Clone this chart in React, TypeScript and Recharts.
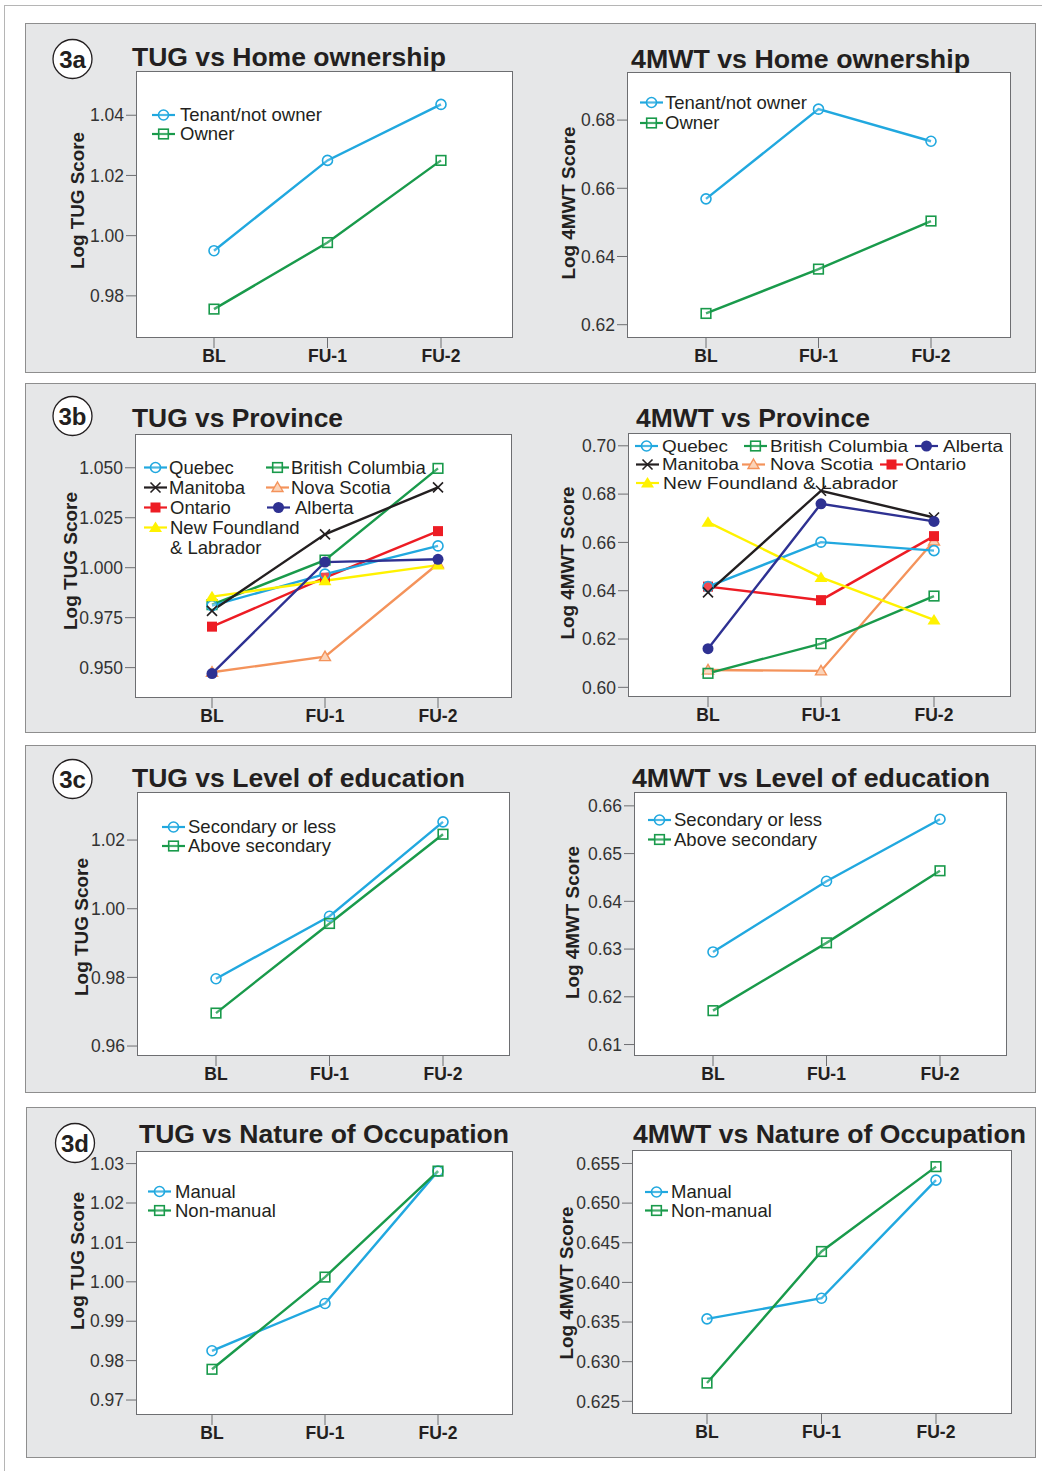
import React from 'react';
import { LineChart, Line, XAxis, YAxis } from 'recharts';

const FONT = '"Liberation Sans", Arial, Helvetica, sans-serif';
const INK = '#231f20';
const AXIS = '#6d6e71';

const visits = ['BL', 'FU-1', 'FU-2'];

const CYAN = '#21a8df';
const GREEN = '#199a4b';

// 3a home ownership
const tugTenant = [0.995, 1.025, 1.0436];
const tugOwner = [0.9756, 0.9977, 1.025];
const mwtTenant = [0.6569, 0.6832, 0.6738];
const mwtOwner = [0.6233, 0.6363, 0.6504];

// 3b province
const tugQuebec = [0.981, 0.9968, 1.0109];
const tugBC = [0.9815, 1.0038, 1.0497];
const tugManitoba = [0.9784, 1.0167, 1.0402];
const tugNovaScotia = [0.9477, 0.9555, 1.002];
const tugOntario = [0.9705, 0.995, 1.0183];
const tugAlberta = [0.947, 1.0028, 1.0042];
const tugNfl = [0.9855, 0.9935, 1.0013];

const mwtQuebec = [0.6417, 0.6601, 0.6566];
const mwtBC = [0.6058, 0.6181, 0.6378];
const mwtManitoba = [0.6393, 0.6814, 0.6703];
const mwtNovaScotia = [0.6072, 0.6068, 0.6606];
const mwtOntario = [0.6417, 0.6361, 0.6626];
const mwtAlberta = [0.616, 0.676, 0.6687];
const mwtNfl = [0.6684, 0.6455, 0.6279];

// 3c education
const tugSecondary = [0.9796, 0.9978, 1.0253];
const tugAbove = [0.9696, 0.9957, 1.0217];
const mwtSecondary = [0.6294, 0.6442, 0.6572];
const mwtAbove = [0.6171, 0.6313, 0.6464];

// 3d occupation
const tugManual = [0.9825, 0.9945, 1.0281];
const tugNonManual = [0.9778, 1.0012, 1.0281];
const mwtManual = [0.6354, 0.638, 0.6529];
const mwtNonManual = [0.6273, 0.6439, 0.6546];

// tick labels
const tugTicksA = [0.98, 1.0, 1.02, 1.04];
const mwtTicksA = [0.62, 0.64, 0.66, 0.68];
const tugTicksB = [0.95, 0.975, 1.0, 1.025, 1.05];
const mwtTicksB = [0.6, 0.62, 0.64, 0.66, 0.68, 0.7];
const tugTicksC = [0.96, 0.98, 1.0, 1.02];
const mwtTicksC = [0.61, 0.62, 0.63, 0.64, 0.65, 0.66];
const tugTicksD = [0.97, 0.98, 0.99, 1.0, 1.01, 1.02, 1.03];
const mwtTicksD = [0.625, 0.63, 0.635, 0.64, 0.645, 0.65, 0.655];

type Shape = 'circle' | 'square' | 'x' | 'triangle' | 'fsquare' | 'fcircle' | 'ftriangle';
type Series = { key: string; name: string; values: number[]; color: string; shape: Shape };

const ownership = (t: number[], o: number[]): Series[] => [
  { key: 'tenant', name: 'Tenant/not owner', values: t, color: CYAN, shape: 'circle' },
  { key: 'owner', name: 'Owner', values: o, color: GREEN, shape: 'square' },
];
const education = (s: number[], a: number[]): Series[] => [
  { key: 'secondary', name: 'Secondary or less', values: s, color: CYAN, shape: 'circle' },
  { key: 'above', name: 'Above secondary', values: a, color: GREEN, shape: 'square' },
];
const occupation = (m: number[], n: number[]): Series[] => [
  { key: 'manual', name: 'Manual', values: m, color: CYAN, shape: 'circle' },
  { key: 'nonmanual', name: 'Non-manual', values: n, color: GREEN, shape: 'square' },
];
const province = (q: number[], bc: number[], mb: number[], ns: number[], on: number[], ab: number[], nl: number[]): Series[] => [
  { key: 'ns', name: 'Nova Scotia', values: ns, color: '#f4935b', shape: 'triangle' },
  { key: 'bc', name: 'British Columbia', values: bc, color: GREEN, shape: 'square' },
  { key: 'on', name: 'Ontario', values: on, color: '#ed1c24', shape: 'fsquare' },
  { key: 'q', name: 'Quebec', values: q, color: CYAN, shape: 'circle' },
  { key: 'nl', name: 'New Foundland & Labrador', values: nl, color: '#fff200', shape: 'ftriangle' },
  { key: 'mb', name: 'Manitoba', values: mb, color: '#231f20', shape: 'x' },
  { key: 'ab', name: 'Alberta', values: ab, color: '#2e3192', shape: 'fcircle' },
];

function Marker({ cx, cy, shape, color }: { cx?: number; cy?: number; shape: Shape; color: string }) {
  if (cx == null || cy == null) return null;
  const sw = 1.6;
  switch (shape) {
    case 'circle':
      return <circle cx={cx} cy={cy} r={5} fill="#fff" fillOpacity={0.2} stroke={color} strokeWidth={sw} />;
    case 'square':
      return <rect x={cx - 4.8} y={cy - 4.8} width={9.6} height={9.6} fill="#fff" fillOpacity={0.2} stroke={color} strokeWidth={sw} />;
    case 'fsquare':
      return <rect x={cx - 5} y={cy - 5} width={10} height={10} fill={color} />;
    case 'fcircle':
      return <circle cx={cx} cy={cy} r={5.5} fill={color} />;
    case 'triangle':
      return <polygon points={`${cx},${cy - 5.5} ${cx + 5.5},${cy + 4} ${cx - 5.5},${cy + 4}`} fill="#fbd3b8" stroke={color} strokeWidth={1.4} />;
    case 'ftriangle':
      return <polygon points={`${cx},${cy - 6} ${cx + 6.5},${cy + 4.5} ${cx - 6.5},${cy + 4.5}`} fill={color} />;
    case 'x':
      return (
        <g stroke={color} strokeWidth={1.6}>
          <line x1={cx - 5} y1={cy - 5} x2={cx + 5} y2={cy + 5} />
          <line x1={cx - 5} y1={cy + 5} x2={cx + 5} y2={cy - 5} />
        </g>
      );
  }
  return null;
}

type ChartSpec = {
  box: [number, number, number, number];
  domain: [number, number];
  ticks: number[];
  digits: number;
  pad: [number, number];
  series: Series[];
};

const YW = 70;
const XH = 40;
const MT = 3;

function ChartPanel({ spec }: { spec: ChartSpec }) {
  const [bx, by, bw, bh] = spec.box;
  const data = visits.map((v, i) => {
    const row: Record<string, string | number> = { visit: v };
    spec.series.forEach((s) => {
      row[s.key] = s.values[i];
    });
    return row;
  });
  return (
    <>
      <div
        style={{
          position: 'absolute', left: bx, top: by, width: bw, height: bh,
          boxSizing: 'border-box', border: `1px solid ${AXIS}`, background: '#fff',
        }}
      />
      <div style={{ position: 'absolute', left: bx - YW, top: by - MT }}>
        <LineChart width={YW + bw + MT} height={MT + bh + XH} data={data} margin={{ top: MT, right: MT, bottom: 0, left: 0 }}>
          <XAxis
            dataKey="visit"
            height={XH}
            interval={0}
            padding={{ left: spec.pad[0], right: spec.pad[1] }}
            axisLine={false}
            tickLine={{ stroke: AXIS }}
            tickSize={10}
            tickMargin={2}
            tick={{ fill: INK, fontSize: 17.5, fontWeight: 700, fontFamily: FONT }}
          />
          <YAxis
            type="number"
            domain={spec.domain}
            ticks={spec.ticks}
            allowDataOverflow
            width={YW}
            axisLine={false}
            tickLine={{ stroke: AXIS }}
            tickSize={10}
            tickMargin={2}
            tick={{ fill: '#333', fontSize: 17.5, fontFamily: FONT }}
            tickFormatter={(v: number) => v.toFixed(spec.digits)}
          />
          {spec.series.map((s) => (
            <Line
              key={s.key}
              type="linear"
              dataKey={s.key}
              name={s.name}
              stroke={s.color}
              strokeWidth={2.4}
              dot={(p: any) => <Marker key={`${s.key}-${p.index}`} cx={p.cx} cy={p.cy} shape={s.shape} color={s.color} />}
              activeDot={false}
              isAnimationActive={false}
            />
          ))}
        </LineChart>
      </div>
    </>
  );
}

const charts: ChartSpec[] = [
  { box: [136, 71, 377, 267], domain: [0.966, 1.0547], ticks: tugTicksA, digits: 2, pad: [78, 72], series: ownership(tugTenant, tugOwner) },
  { box: [627, 72, 384, 266], domain: [0.6161, 0.6941], ticks: mwtTicksA, digits: 2, pad: [79, 80], series: ownership(mwtTenant, mwtOwner) },
  { box: [135, 434, 377, 264], domain: [0.9348, 1.0669], ticks: tugTicksB, digits: 3, pad: [77, 74], series: province(tugQuebec, tugBC, tugManitoba, tugNovaScotia, tugOntario, tugAlberta, tugNfl) },
  { box: [628, 433, 383, 264], domain: [0.596, 0.7053], ticks: mwtTicksB, digits: 2, pad: [80, 77], series: province(mwtQuebec, mwtBC, mwtManitoba, mwtNovaScotia, mwtOntario, mwtAlberta, mwtNfl) },
  { box: [137, 792, 373, 264], domain: [0.9571, 1.034], ticks: tugTicksC, digits: 2, pad: [79, 67], series: education(tugSecondary, tugAbove) },
  { box: [634, 792, 373, 264], domain: [0.6076, 0.6629], ticks: mwtTicksC, digits: 2, pad: [79, 67], series: education(mwtSecondary, mwtAbove) },
  { box: [136, 1151, 377, 264], domain: [0.9662, 1.0332], ticks: tugTicksD, digits: 2, pad: [76, 75], series: occupation(tugManual, tugNonManual) },
  { box: [632, 1150, 380, 264], domain: [0.6234, 0.6567], ticks: mwtTicksD, digits: 3, pad: [75, 76], series: occupation(mwtManual, mwtNonManual) },
];

const panels: [number, number, number, number][] = [
  [25, 23, 1011, 350],
  [25, 383, 1011, 350],
  [25, 745, 1011, 348],
  [26, 1107, 1010, 351],
];

const panelLabels: { text: string; x: number; y: number }[] = [
  { text: '3a', x: 72.5, y: 59 },
  { text: '3b', x: 72.5, y: 416 },
  { text: '3c', x: 72.5, y: 779 },
  { text: '3d', x: 75, y: 1143 },
];

const titles: { text: string; x: number; y: number; w: number }[] = [
  { text: 'TUG vs Home ownership', x: 132, y: 66, w: 314 },
  { text: '4MWT vs Home ownership', x: 631, y: 68, w: 339 },
  { text: 'TUG vs Province', x: 132, y: 427, w: 211 },
  { text: '4MWT vs Province', x: 636, y: 427, w: 234 },
  { text: 'TUG vs Level of education', x: 132, y: 787, w: 333 },
  { text: '4MWT vs Level of education', x: 632, y: 787, w: 358 },
  { text: 'TUG vs Nature of Occupation', x: 139, y: 1143, w: 370 },
  { text: '4MWT vs Nature of Occupation', x: 633, y: 1143, w: 393 },
];

const yLabels: { text: string; x: number; y: number; w: number }[] = [
  { text: 'Log TUG Score', x: 77.5, y: 200.5, w: 137 },
  { text: 'Log 4MWT Score', x: 568.5, y: 203, w: 153 },
  { text: 'Log TUG Score', x: 70.5, y: 561, w: 138 },
  { text: 'Log 4MWT Score', x: 568, y: 563, w: 153 },
  { text: 'Log TUG Score', x: 82, y: 927, w: 138 },
  { text: 'Log 4MWT Score', x: 573, y: 922.5, w: 153 },
  { text: 'Log TUG Score', x: 78, y: 1261, w: 138 },
  { text: 'Log 4MWT Score', x: 566.5, y: 1283, w: 153 },
];

type LegendItem = { series: Series; lines: string[]; x: number; y: number; tx: number; fs: number; tw?: number };
type LegendPlace = { key: string; x: number; y: number; tx: number; lines?: string[]; fs?: number; tw?: number };

function legendFor(chart: ChartSpec, layout: LegendPlace[]): LegendItem[] {
  return layout.map((l) => {
    const s = chart.series.find((c) => c.key === l.key)!;
    return { series: s, lines: l.lines ?? [s.name], x: l.x, y: l.y, tx: l.tx, fs: l.fs ?? 18.5, tw: l.tw };
  });
}

const legends: LegendItem[] = [
  ...legendFor(charts[0], [
    { key: 'tenant', x: 152, y: 115, tx: 180 },
    { key: 'owner', x: 152, y: 134, tx: 180 },
  ]),
  ...legendFor(charts[1], [
    { key: 'tenant', x: 640, y: 102.5, tx: 665 },
    { key: 'owner', x: 640, y: 123, tx: 665 },
  ]),
  ...legendFor(charts[2], [
    { key: 'q', x: 144, y: 467.5, tx: 169 },
    { key: 'bc', x: 266, y: 467.5, tx: 291 },
    { key: 'mb', x: 144, y: 487.5, tx: 169 },
    { key: 'ns', x: 266, y: 487.5, tx: 291 },
    { key: 'on', x: 144, y: 507.5, tx: 170 },
    { key: 'ab', x: 267, y: 507.5, tx: 295 },
    { key: 'nl', x: 144, y: 527.5, tx: 170, lines: ['New Foundland', '& Labrador'] },
  ]),
  ...legendFor(charts[3], [
    { key: 'q', x: 635, y: 446, tx: 662, fs: 16, tw: 66 },
    { key: 'bc', x: 744, y: 446, tx: 770, fs: 16, tw: 138 },
    { key: 'ab', x: 915, y: 446, tx: 943, fs: 16, tw: 60 },
    { key: 'mb', x: 636, y: 464.5, tx: 662, fs: 16, tw: 77 },
    { key: 'ns', x: 742, y: 464.5, tx: 770, fs: 16, tw: 103 },
    { key: 'on', x: 880, y: 464.5, tx: 905, fs: 16, tw: 61 },
    { key: 'nl', x: 636, y: 483, tx: 663, fs: 16, tw: 235 },
  ]),
  ...legendFor(charts[4], [
    { key: 'secondary', x: 162, y: 827, tx: 188 },
    { key: 'above', x: 162, y: 846, tx: 188 },
  ]),
  ...legendFor(charts[5], [
    { key: 'secondary', x: 648, y: 820, tx: 674 },
    { key: 'above', x: 648, y: 839.5, tx: 674 },
  ]),
  ...legendFor(charts[6], [
    { key: 'manual', x: 148, y: 1191.5, tx: 175 },
    { key: 'nonmanual', x: 148, y: 1210.5, tx: 175 },
  ]),
  ...legendFor(charts[7], [
    { key: 'manual', x: 645, y: 1192, tx: 671 },
    { key: 'nonmanual', x: 645, y: 1210.5, tx: 671 },
  ]),
];

export default function App() {
  return (
    <div style={{ position: 'absolute', left: 0, top: 0, width: 1042, height: 1471, background: '#fff', overflow: 'hidden', fontFamily: FONT }}>
      <div style={{ position: 'absolute', left: 4, top: 5, width: 1100, height: 1500, borderLeft: '1px solid #b5b5b5', borderTop: '1px solid #b5b5b5' }} />
      {panels.map(([x, y, w, h], i) => (
        <div
          key={i}
          style={{ position: 'absolute', left: x, top: y, width: w, height: h, boxSizing: 'border-box', border: '1.5px solid #8e8e8e', background: '#e6e7e8' }}
        />
      ))}
      {charts.map((c, i) => (
        <ChartPanel key={i} spec={c} />
      ))}
      <svg width={1042} height={1471} style={{ position: 'absolute', left: 0, top: 0, pointerEvents: 'none' }}>
        {panelLabels.map((p) => (
          <g key={p.text}>
            <circle cx={p.x} cy={p.y} r={19.5} fill="#fff" stroke={INK} strokeWidth={1.3} />
            <text x={p.x} y={p.y + 8.5} textAnchor="middle" fontSize={24} fontWeight={700} fill={INK} fontFamily={FONT}>
              {p.text}
            </text>
          </g>
        ))}
        {titles.map((t) => (
          <text key={t.text} x={t.x} y={t.y} fontSize={25} fontWeight={700} fill={INK} fontFamily={FONT} textLength={t.w} lengthAdjust="spacingAndGlyphs">
            {t.text}
          </text>
        ))}
        {yLabels.map((l, i) => (
          <text
            key={i}
            x={l.x}
            y={l.y}
            transform={`rotate(-90 ${l.x} ${l.y})`}
            textAnchor="middle"
            dominantBaseline="central"
            fontSize={18}
            fontWeight={700}
            fill={INK}
            fontFamily={FONT}
            textLength={l.w}
            lengthAdjust="spacingAndGlyphs"
          >
            {l.text}
          </text>
        ))}
        {legends.map((l, i) => (
          <g key={i}>
            <line x1={l.x} y1={l.y} x2={l.x + 23} y2={l.y} stroke={l.series.color} strokeWidth={2.2} />
            <Marker cx={l.x + 11.5} cy={l.y} shape={l.series.shape} color={l.series.color} />
            {l.lines.map((ln, j) => (
              <text
                key={j}
                x={l.tx}
                y={l.y + l.fs * 0.35 + j * 20}
                fontSize={l.fs}
                fill={INK}
                fontFamily={FONT}
                textLength={l.tw}
                lengthAdjust={l.tw ? 'spacingAndGlyphs' : undefined}
              >
                {ln}
              </text>
            ))}
          </g>
        ))}
      </svg>
    </div>
  );
}
